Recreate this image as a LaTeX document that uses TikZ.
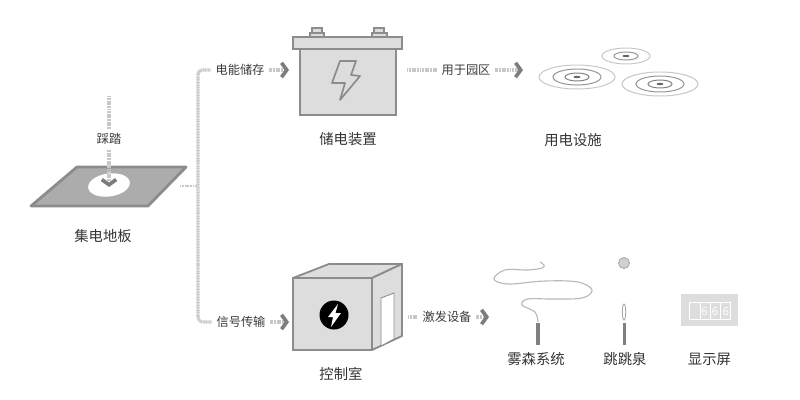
\documentclass[tikz,border=0pt]{standalone}
\usepackage{fontspec}
\setmainfont{Noto Sans CJK SC}
\usepackage{xcolor}
\usetikzlibrary{arrows.meta,positioning,calc}
\definecolor{edgegray}{RGB}{140,140,140}
\definecolor{fillgray}{RGB}{221,221,221}
\definecolor{plategray}{RGB}{172,172,172}
\definecolor{dotgray}{RGB}{200,200,200}
\definecolor{tipgray}{RGB}{125,125,125}
\definecolor{textgray}{RGB}{60,60,60}
\tikzset{
  flow/.style={dotgray,line width=2.3pt,dash pattern=on .8pt off .35pt},
  part/.style={draw=edgegray,fill=fillgray,line width=1.3pt},
  tag/.style={font=\fontsize{8.7}{10}\selectfont,text=textgray,fill=white,inner sep=1.5pt,outer sep=2pt},
  title/.style={font=\fontsize{10.2}{12}\selectfont,text=black!80,inner sep=0pt},
  ring/.style={draw=#1,line width=.7pt,fill=none},
  stem/.style={fill=black!50,draw=none},
}
\begin{document}
\begin{tikzpicture}[x=0.025cm,y=-0.025cm,>={Straight Barb[length=1.3mm,width=3.6mm,color=tipgray,line width=2.6pt]}]
  \useasboundingbox (0,0) rectangle (800,400);

  % plate
  \draw[draw=edgegray,fill=plategray,line width=2pt,line join=round] (77,167) -- (186,167) -- (148,206) -- (31,206) -- cycle;
  \fill[white,rotate around={8:(109,185)}] (109,185) ellipse [x radius=21,y radius=11.5];
  \node[title] (plate) at (103,236) {集电地板};
  \coordinate (stepin) at (109,96);
  \coordinate (stepend) at (109,187);
  \node[tag] (tread) at (109,139) {踩踏};
  \draw[flow] (stepin) -- (tread);
  \draw[flow,->] (tread) -- (stepend);

  % bus
  \coordinate (plateout) at (180,186);
  \coordinate (busmid) at (197,186);
  \node[tag] (store) at (240,70) {电能储存};
  \node[tag] (signal) at (241,322) {信号传输};
  \draw[flow,line width=1.4pt] (plateout) -- (busmid);
  \draw[flow,rounded corners=3pt] (store) -- (198,70) -- (198,322) -- (signal);
  \coordinate (storetip) at (289,70);
  \coordinate (signaltip) at (289,322);
  \draw[flow,->] (store) -- (storetip);
  \draw[flow,->] (signal) -- (signaltip);

  % battery
  \draw[part] (300,49) rectangle (396,115);
  \draw[part] (310,37) rectangle (324,33);
  \draw[part] (312,33) rectangle (322,28);
  \draw[part] (372,37) rectangle (387,33);
  \draw[part] (374,33) rectangle (384,28);
  \draw[part] (293,37) rectangle (402,49);
  \draw[draw=edgegray,line width=1.2pt,line join=round] (340,61) -- (356,61) -- (351,75) -- (360,76) -- (340,100) -- (345,83) -- (332,83) -- cycle;
  \node[title] (battery) at (348,139) {储电装置};

  \node[tag] (park) at (466,70) {用于园区};
  \coordinate (parkin) at (407,70);
  \coordinate (parktip) at (523,70);
  \draw[flow] (parkin) -- (park);
  \draw[flow,->] (park) -- (parktip);

  % ripples
  \foreach \cx/\cy/\big in {577/77/1,660/84/1,626/56/0}{
    \ifnum\big=1
      \draw[ring=black!22] (\cx,\cy) ellipse [x radius=38,y radius=12];
      \draw[ring=black!42] (\cx,\cy) ellipse [x radius=24,y radius=8];
      \draw[ring=black!50] (\cx,\cy) ellipse [x radius=12,y radius=4];
    \else
      \draw[ring=black!22] (\cx,\cy) ellipse [x radius=24,y radius=8];
      \draw[ring=black!42] (\cx,\cy) ellipse [x radius=12,y radius=4];
    \fi
    \fill[black!60] (\cx,\cy) ellipse [x radius=3.5,y radius=1.2];
  }
  \node[title] (loads) at (573,140) {用电设施};

  % control room
  \draw[part,line join=round] (293,278) -- (329,264) -- (402,264) -- (372,278) -- cycle;
  \draw[part,line join=round] (372,278) -- (402,264) -- (402,336) -- (372,350) -- cycle;
  \draw[part] (293,278) rectangle (372,350);
  \draw[fill=white,draw=edgegray,line width=.6pt] (381,298) -- (394,293) -- (394,339) -- (381,346) -- cycle;
  \fill[black] (334,315) circle [radius=14.5];
  \fill[white] (338,304) -- (328,317) -- (333,317) -- (331,327) -- (341,313) -- (335.5,313) -- cycle;
  \node[title] (room) at (341,374) {控制室};

  \node[tag] (fire) at (447,317) {激发设备};
  \coordinate (firein) at (408,317);
  \coordinate (firetip) at (489,317);
  \draw[flow,shorten >=1pt] (firein) -- (fire);
  \draw[flow,->] (fire) -- (firetip);

  % mist
  \draw[black!28,line width=.8pt] plot[smooth,tension=.6] coordinates {(538,322) (535,312) (522,305) (528,299) (552,299) (582,298) (592,290) (578,282) (545,281) (508,284) (494,279) (505,270) (528,270) (542,268) (544,265) (540,262)};
  \fill[stem] (536,323) rectangle (539.5,345);
  \node[title] (mist) at (536,359) {雾森系统};

  % fountain
  \draw[draw=black!35,fill=black!18,line width=.6pt] (624,263) circle [radius=5.5];
  \draw[black!35,line width=.6pt] (624,312) ellipse [x radius=1.7,y radius=8];
  \fill[stem] (622.5,323) rectangle (626,345);
  \node[title] (jump) at (625,359) {跳跳泉};

  % display
  \fill[fillgray] (681,294) rectangle (738,326);
  \draw[white,line width=.4pt] (689,302) rectangle (730,319);
  \foreach \xd in {700,710,720}
    \draw[white,line width=.4pt] (\xd,302) -- (\xd,319);
  \foreach \xd in {704.5,715,726}
    \node[text=white,font=\fontsize{8}{9}\selectfont,inner sep=0pt] at (\xd,311) {6};
  \node[title] (screen) at (709.5,359) {显示屏};
\end{tikzpicture}
\end{document}
